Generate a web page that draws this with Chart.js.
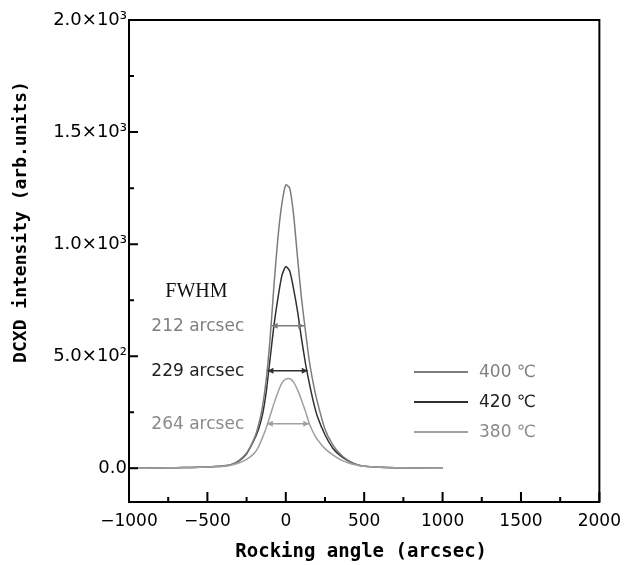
<!DOCTYPE html>
<html>
<head>
<meta charset="utf-8">
<script src="https://cdn.jsdelivr.net/npm/chart.js@4"></script>
<style>
  body { margin: 0; background: #fff; }
  #wrap { width: 630px; height: 565px; position: relative; }
</style>
</head>
<body>
<div id="wrap"><canvas id="grafico"></canvas></div>
<script>
// ============================
// DADOS
// ============================
const angulos = [-1000, -900, -800, -700, -600, -500, -450, -400, -350, -300, -250, -200, -175, -150, -125, -100, -75, -50, -25, 0,
  25, 50, 75, 100, 125, 150, 175, 200, 250, 300, 350, 400, 450, 500, 600, 700, 800, 900, 1000];

const serie400 = [0, 1, 2, 3, 4, 6, 8, 10, 16, 35, 68, 135, 190, 270, 395, 580, 820, 1030, 1180, 1265,
  1250, 1130, 940, 760, 615, 480, 380, 300, 175, 105, 62, 35, 18, 10, 5, 3, 2, 1, 0];
const serie420 = [0, 1, 2, 3, 4, 6, 8, 11, 16, 32, 65, 130, 172, 235, 340, 490, 640, 760, 860, 900,
  880, 800, 700, 580, 470, 380, 300, 235, 150, 90, 55, 32, 17, 10, 5, 3, 2, 1, 0];
const serie380 = [0, 1, 2, 3, 4, 6, 8, 10, 14, 24, 40, 68, 95, 135, 180, 235, 290, 340, 380, 398,
  400, 385, 350, 305, 255, 200, 160, 130, 88, 60, 38, 24, 15, 9, 5, 3, 2, 1, 0];

const legendas = ['400 ℃', '420 ℃', '380 ℃'];

// FWHM: altura da seta, início, fim, texto
const fwhmAltura = [636, 435, 199];
const fwhmInicio = [-90, -117, -121];
const fwhmFim = [117, 140, 150];
const fwhmTexto = ['212 arcsec', '229 arcsec', '264 arcsec'];

const xTicks = [-1000, -500, 0, 500, 1000, 1500, 2000];
const xMinor = [-750, -250, 250, 750, 1250, 1750];
const yTicks = [0, 500, 1000, 1500, 2000];
const yMinor = [250, 750, 1250, 1750];

// cores
const corSerie = ['#7c7c7c', '#303030', '#a0a0a0'];
const corTexto = ['#808080', '#222222', '#8a8a8a'];

function rotuloY(v) {
  if (v === 0) return '0.0';
  const exp = Math.floor(Math.log10(v));
  const mant = (v / Math.pow(10, exp)).toFixed(1);
  const sup = { 2: '²', 3: '³' }[exp];
  return mant + '×10' + sup;
}

function pontos(serie) {
  return angulos.map((a, i) => ({ x: a, y: serie[i] }));
}

// ============================
// PLUGIN: moldura, ticks internos, setas, textos
// ============================
const extras = {
  id: 'extras',
  afterDatasetsDraw(chart) {
    const ctx = chart.ctx;
    const ca = chart.chartArea;
    const sx = chart.scales.x;
    const sy = chart.scales.y;

    ctx.save();
    // moldura
    ctx.strokeStyle = '#000';
    ctx.lineWidth = 2;
    ctx.strokeRect(ca.left, ca.top, ca.right - ca.left, ca.bottom - ca.top);

    // ticks internos
    ctx.lineWidth = 2;
    ctx.beginPath();
    xTicks.forEach(v => { const p = sx.getPixelForValue(v); ctx.moveTo(p, ca.bottom); ctx.lineTo(p, ca.bottom - 10); });
    xMinor.forEach(v => { const p = sx.getPixelForValue(v); ctx.moveTo(p, ca.bottom); ctx.lineTo(p, ca.bottom - 5); });
    yTicks.forEach(v => { const p = sy.getPixelForValue(v); ctx.moveTo(ca.left, p); ctx.lineTo(ca.left + 9, p); });
    yMinor.forEach(v => { const p = sy.getPixelForValue(v); ctx.moveTo(ca.left, p); ctx.lineTo(ca.left + 5, p); });
    ctx.stroke();

    // setas FWHM
    fwhmAltura.forEach((h, i) => {
      const y = sy.getPixelForValue(h);
      const x1 = sx.getPixelForValue(fwhmInicio[i]);
      const x2 = sx.getPixelForValue(fwhmFim[i]);
      ctx.strokeStyle = corSerie[i];
      ctx.fillStyle = corSerie[i];
      ctx.lineWidth = 1.5;
      ctx.beginPath();
      ctx.moveTo(x1, y); ctx.lineTo(x2, y);
      ctx.stroke();
      ctx.beginPath();
      ctx.moveTo(x1, y); ctx.lineTo(x1 + 6, y - 3); ctx.lineTo(x1 + 6, y + 3); ctx.closePath();
      ctx.moveTo(x2, y); ctx.lineTo(x2 - 6, y - 3); ctx.lineTo(x2 - 6, y + 3); ctx.closePath();
      ctx.fill();

      // texto ao lado
      ctx.font = '17px "DejaVu Sans"';
      ctx.textAlign = 'right';
      ctx.textBaseline = 'middle';
      ctx.fillStyle = corTexto[i];
      ctx.fillText(fwhmTexto[i], sx.getPixelForValue(-265), y + 1);
    });

    // FWHM título
    ctx.font = '20px "Liberation Serif"';
    ctx.fillStyle = '#111';
    ctx.textAlign = 'center';
    ctx.fillText('FWHM', sx.getPixelForValue(-570), sy.getPixelForValue(790));

    // legenda
    legendas.forEach((t, i) => {
      const y = 372 + i * 30;
      ctx.strokeStyle = corSerie[i];
      ctx.lineWidth = 2;
      ctx.beginPath();
      ctx.moveTo(414, y); ctx.lineTo(468, y);
      ctx.stroke();
      ctx.font = '17px "DejaVu Sans"';
      ctx.textAlign = 'left';
      ctx.fillStyle = corTexto[i];
      ctx.fillText(t, 479, y + 1);
    });

    // títulos dos eixos
    ctx.fillStyle = '#000';
    ctx.font = 'bold 19px "DejaVu Sans Mono"';
    ctx.textAlign = 'center';
    ctx.fillText('Rocking angle (arcsec)', (ca.left + ca.right) / 2 - 3, 552);
    ctx.translate(21, 222);
    ctx.rotate(-Math.PI / 2);
    ctx.font = 'bold 18px "DejaVu Sans Mono"';
    ctx.fillText('DCXD intensity (arb.units)', 0, 0);
    ctx.restore();
  }
};

// ============================
// GRÁFICO
// ============================
new Chart(document.getElementById('grafico'), {
  type: 'line',
  data: {
    datasets: [
      { label: legendas[2], data: pontos(serie380), borderColor: corSerie[2], borderWidth: 1.5, pointRadius: 0, tension: 0.2, fill: false },
      { label: legendas[0], data: pontos(serie400), borderColor: corSerie[0], borderWidth: 1.5, pointRadius: 0, tension: 0.2, fill: false },
      { label: legendas[1], data: pontos(serie420), borderColor: corSerie[1], borderWidth: 1.5, pointRadius: 0, tension: 0.2, fill: false }
    ]
  },
  options: {
    responsive: true,
    maintainAspectRatio: false,
    animation: false,
    layout: { padding: { left: 0, top: 20, right: 30, bottom: 0 } },
    plugins: { legend: { display: false }, tooltip: { enabled: false } },
    scales: {
      x: {
        type: 'linear',
        min: -1000, max: 2000,
        afterFit: s => { s.height = 63; },
        afterBuildTicks: s => { s.ticks = xTicks.map(v => ({ value: v })); },
        grid: { display: false, drawTicks: false },
        border: { display: false },
        ticks: { padding: 9, color: '#000', font: { family: 'DejaVu Sans', size: 17 },
          callback: v => (v < 0 ? '−' + Math.abs(v) : '' + v) }
      },
      y: {
        type: 'linear',
        min: -150, max: 2000,
        afterFit: s => { s.width = 129; },
        afterBuildTicks: s => { s.ticks = yTicks.map(v => ({ value: v })); },
        grid: { display: false, drawTicks: false },
        border: { display: false },
        ticks: { padding: 2, color: '#000', font: { family: 'DejaVu Sans', size: 18 }, callback: v => rotuloY(v) }
      }
    }
  },
  plugins: [extras]
});
</script>
</body>
</html>
